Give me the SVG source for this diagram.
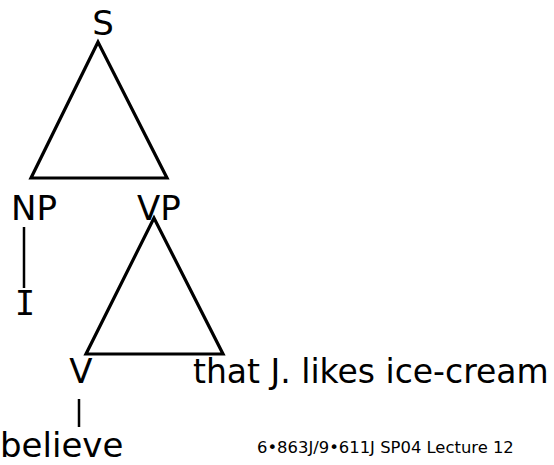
<svg xmlns="http://www.w3.org/2000/svg" width="554" height="465" viewBox="0 0 554 465">
<style>
text{font-family:"DejaVu Sans",Verdana,sans-serif;fill:#000}
.lbl{font-size:34px}
.mono{font-family:"DejaVu Sans Mono",monospace}
.foot{font-size:16.4px}
.tri{fill:none;stroke:#000;stroke-width:3.2;stroke-linejoin:miter}
.ln{stroke:#000;stroke-width:2.5}
</style>
<rect width="554" height="465" fill="#fff"/>
<g id="connectors">
<polygon class="tri" points="98,42 31,178 167,178"/>
<polygon class="tri" points="154,218 86,354 223,354"/>
<line class="ln" x1="24" y1="227" x2="24" y2="288"/>
<line class="ln" x1="79" y1="399" x2="79" y2="427"/>
</g>
<g id="S"><text class="lbl" x="103" y="35" text-anchor="middle">S</text></g>
<g id="NP"><text class="lbl" x="34" y="220" text-anchor="middle">NP</text></g>
<g id="VP"><text class="lbl" x="159" y="220" text-anchor="middle">VP</text></g>
<g id="I"><text class="lbl mono" x="25" y="315" text-anchor="middle">I</text></g>
<g id="V"><text class="lbl" x="81" y="383" text-anchor="middle">V</text></g>
<g id="believe"><text class="lbl" x="0" y="457">believe</text></g>
<g id="clause"><text class="lbl" x="193" y="383" style="font-size:33px">that J. likes ice-cream</text></g>
<g id="footer"><text class="foot" x="257" y="453">6•863J/9•611J SP04 Lecture 12</text></g>
</svg>
